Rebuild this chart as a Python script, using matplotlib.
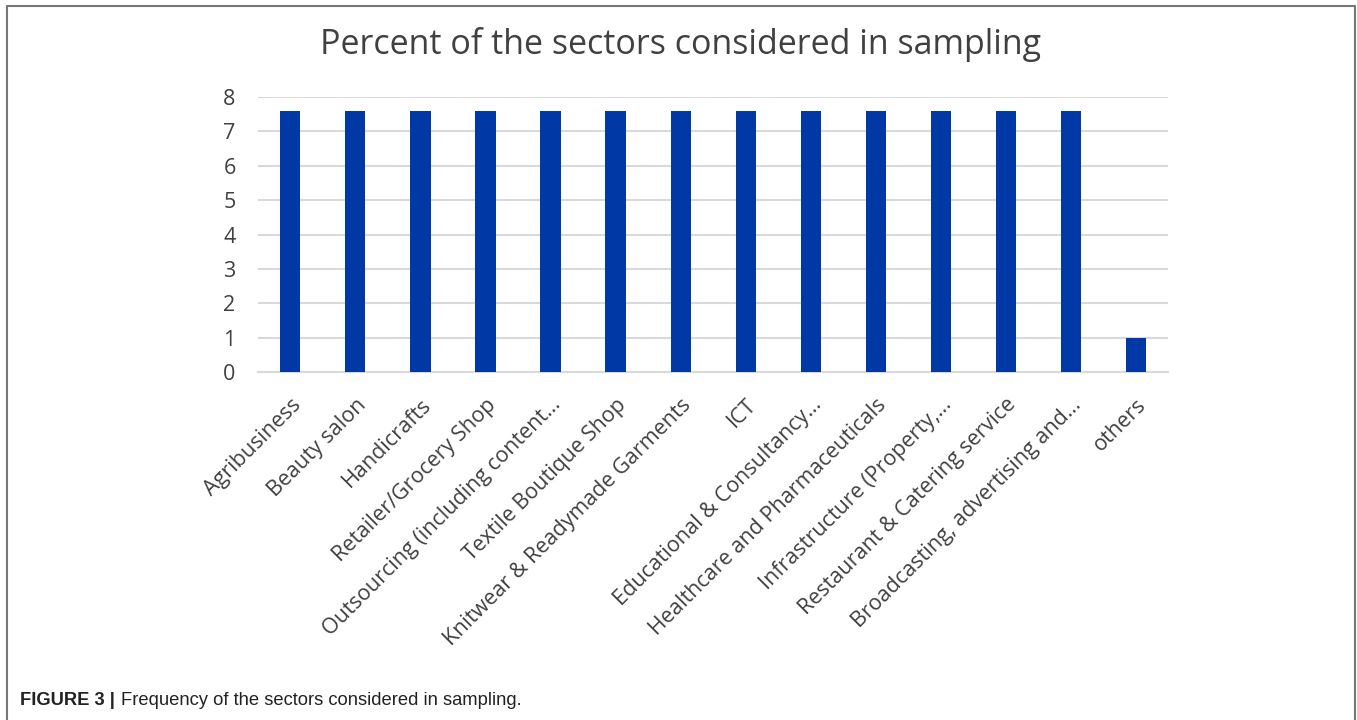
import matplotlib.pyplot as plt
import numpy as np

plt.rcParams['font.family'] = 'Open Sans'

sectors = ['Agribusiness', 'Beauty salon', 'Handicrafts', 'Retailer/Grocery Shop',
           'Outsourcing (including content\u2026', 'Textile Boutique Shop',
           'Knitwear & Readymade Garments', 'ICT', 'Educational & Consultancy\u2026',
           'Healthcare and Pharmaceuticals', 'Infrastructure (Property,\u2026',
           'Restaurant & Catering service', 'Broadcasting, advertising and\u2026', 'others']
percent = [7.6, 7.6, 7.6, 7.6, 7.6, 7.6, 7.6, 7.6, 7.6, 7.6, 7.6, 7.6, 7.6, 1.0]
yticks = [0, 1, 2, 3, 4, 5, 6, 7, 8]

fig = plt.figure(figsize=(13.57, 7.2), dpi=100)
ax = fig.add_axes([0.190, 0.4833, 0.671, 0.382])

x = np.arange(len(sectors))
ax.bar(x, percent, width=0.31, color='#0039a6', zorder=3)

ax.set_xlim(-0.5, len(sectors) - 0.5)
ax.set_ylim(0, 8)
ax.set_yticks(yticks)
ax.yaxis.grid(True, color='#d9d9d9', linewidth=1.5, zorder=0)
ax.set_axisbelow(True)
for s in ['top', 'right', 'left']:
    ax.spines[s].set_visible(False)
ax.spines['bottom'].set_color('#d9d9d9')
ax.spines['bottom'].set_linewidth(1.5)
ax.tick_params(axis='both', length=0, labelsize=15.5, colors='#404040')
ax.tick_params(axis='y', pad=16)
ax.set_xticks(x)
ax.set_xticklabels(sectors, rotation=45, ha='right', va='top', rotation_mode='anchor')
ax.tick_params(axis='x', pad=16)

fig.text(0.5015, 0.938, 'Percent of the sectors considered in sampling', ha='center', va='center',
         fontsize=24.5, color='#404040')

# border around the chart panel
fig.add_artist(plt.Line2D([0.0052, 0.0052, 0.9985, 0.9985], [0.0, 0.9917, 0.9917, 0.0],
                          transform=fig.transFigure, color='#777777', linewidth=1.5))

fig.text(0.0147, 0.027, 'FIGURE 3 |', fontfamily='Liberation Sans', fontweight='bold',
         fontsize=13.2, color='#222222', va='center')
fig.text(0.0895, 0.027, 'Frequency of the sectors considered in sampling.', fontfamily='Liberation Sans',
         fontsize=13.2, color='#222222', va='center')

plt.savefig('out.png')
